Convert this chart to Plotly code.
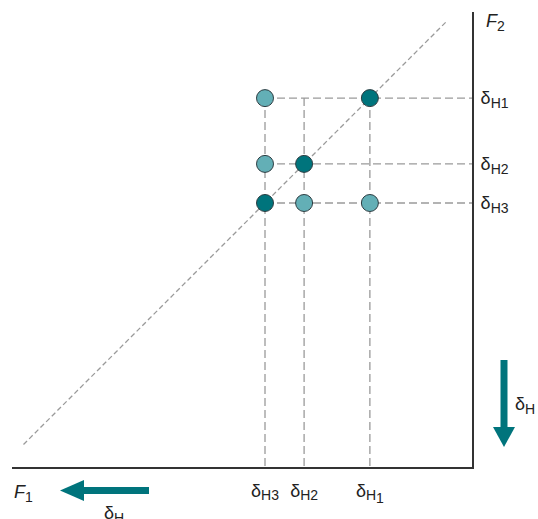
import plotly.graph_objects as go

# chemical shifts (arbitrary ppm-like units)
shift_names = ["H1", "H2", "H3"]
shifts = [2.22, 3.65, 4.5]
SUB = "<span style='font-size:14px'>{}</span>"
x_tick_text = ["δ<sub>" + SUB.format("H") + "<sub>" + SUB.format("1") + "</sub></sub>",
               "δ<sub>" + SUB.format("H2") + "</sub>",
               "δ<sub>" + SUB.format("H3") + "</sub>"]
y_tick_text = ["δ<sub>" + SUB.format("H1") + "</sub>",
               "δ<sub>" + SUB.format("H2") + "</sub>",
               "δ<sub>" + SUB.format("H3") + "</sub>"]

# diagonal peaks (F1, F2)
diag_f1 = [2.22, 3.65, 4.5]
diag_f2 = [2.22, 3.65, 4.5]
# cross peaks (F1, F2)
cross_f1 = [4.5, 4.5, 3.65, 2.22]
cross_f2 = [2.22, 3.65, 4.5, 4.5]

diag_line = [9.75, 0.55]

X_RANGE = [10.0, 0.0]
Y_RANGE = [10.239, 0.348]

DARK = "#00747c"
LIGHT = "#63afb6"
EDGE = "#2e3d42"
DASH = "#9a9a9a"
FONT = "Liberation Sans, Arial, sans-serif"

fig = go.Figure()

for s in shifts:
    fig.add_trace(go.Scatter(x=[max(shifts), X_RANGE[1]], y=[s, s], mode="lines",
                             line=dict(color=DASH, width=1.3, dash="8px,4px"),
                             hoverinfo="skip", showlegend=False))
for s in shifts:
    fig.add_trace(go.Scatter(x=[s, s], y=[min(shifts), Y_RANGE[0]], mode="lines",
                             line=dict(color=DASH, width=1.3, dash="8px,4px"),
                             hoverinfo="skip", showlegend=False))
fig.add_trace(go.Scatter(x=diag_line, y=diag_line, mode="lines",
                         line=dict(color=DASH, width=1.3, dash="5px,3px"),
                         hoverinfo="skip", showlegend=False))

fig.add_trace(go.Scatter(x=cross_f1, y=cross_f2, mode="markers",
                         marker=dict(size=17, color=LIGHT, line=dict(color=EDGE, width=1)),
                         showlegend=False))
fig.add_trace(go.Scatter(x=diag_f1, y=diag_f2, mode="markers",
                         marker=dict(size=17, color=DARK, line=dict(color=EDGE, width=1)),
                         showlegend=False))

W, H = 538, 519
L, T = 12, 12
R = W - 472
B = H - 467
pw, ph = W - L - R, H - T - B

def px(x):
    return (x - L) / pw

def py(y):
    return (H - B - y) / ph

shapes = [
    dict(type="rect", xref="paper", yref="paper", x0=px(82), x1=px(149), y0=py(494), y1=py(487),
         fillcolor=DARK, line=dict(width=0)),
    dict(type="path", xref="paper", yref="paper",
         path=f"M {px(60)} {py(490.5)} L {px(84)} {py(480)} L {px(84)} {py(501)} Z",
         fillcolor=DARK, line=dict(width=0)),
    dict(type="rect", xref="paper", yref="paper", x0=px(500.5), x1=px(507.5), y0=py(429), y1=py(360),
         fillcolor=DARK, line=dict(width=0)),
    dict(type="path", xref="paper", yref="paper",
         path=f"M {px(493)} {py(427)} L {px(515)} {py(427)} L {px(504)} {py(447)} Z",
         fillcolor=DARK, line=dict(width=0)),
]

TF = dict(size=18, color="#222", family=FONT)
annotations = [
    dict(text="<i>F</i><sub>" + SUB.format("2") + "</sub>", x=px(484), y=py(22), xref="paper", yref="paper",
         xanchor="left", yanchor="middle", showarrow=False, font=TF),
    dict(text="<i>F</i><sub>" + SUB.format("1") + "</sub>", x=px(12), y=py(493), xref="paper", yref="paper",
         xanchor="left", yanchor="middle", showarrow=False, font=TF),
    dict(text="δ<sub>" + SUB.format("H") + "</sub>", x=px(102), y=py(514), xref="paper", yref="paper",
         xanchor="left", yanchor="middle", showarrow=False, font=TF),
    dict(text="δ<sub>" + SUB.format("H") + "</sub>", x=px(513), y=py(405), xref="paper", yref="paper",
         xanchor="left", yanchor="middle", showarrow=False, font=TF),
]

fig.update_layout(
    width=W, height=H,
    margin=dict(l=L, r=R, t=T, b=B),
    paper_bgcolor="white", plot_bgcolor="white",
    shapes=shapes, annotations=annotations,
    xaxis=dict(range=X_RANGE, showgrid=False, zeroline=False, showline=True,
               linecolor="#333", linewidth=2, tickvals=shifts, ticktext=x_tick_text,
               ticks="", ticklabelstandoff=6, tickfont=TF),
    yaxis=dict(range=Y_RANGE, side="right", showgrid=False, zeroline=False, showline=True,
               linecolor="#333", linewidth=2, tickvals=shifts, ticktext=y_tick_text,
               ticks="", ticklabelstandoff=3, tickfont=TF),
)

fig.write_html("out.html", config={"displayModeBar": False},
               post_script="document.body.style.margin='0';"
                           "document.documentElement.style.overflow='hidden';")
